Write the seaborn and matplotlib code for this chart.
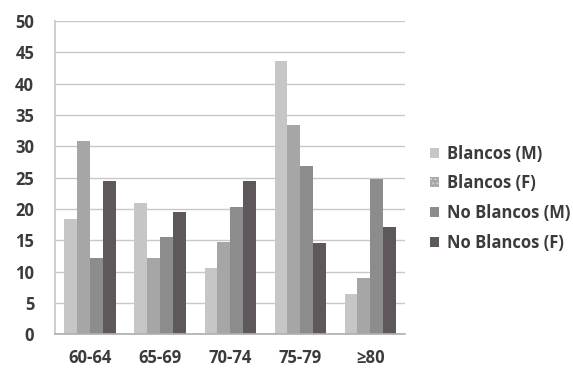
import matplotlib
matplotlib.use("Agg")
import matplotlib.pyplot as plt
from matplotlib.patches import Patch
import seaborn as sns
import pandas as pd

# Grupos de edad y porcentajes por raza y sexo
grupos = ["60-64", "65-69", "70-74", "75-79", "≥80"]
series = ["Blancos (M)", "Blancos (F)", "No Blancos (M)", "No Blancos (F)"]
blancos_m = [18.4, 20.9, 10.5, 43.7, 6.4]
blancos_f = [30.8, 12.1, 14.7, 33.4, 8.9]
no_blancos_m = [12.1, 15.6, 20.3, 26.9, 24.8]
no_blancos_f = [24.4, 19.5, 24.4, 14.6, 17.1]
y_ticks = [0, 5, 10, 15, 20, 25, 30, 35, 40, 45, 50]

colores = ["#c6c6c6", "#a6a6a6", "#8c8c8c", "#5e585c"]

valores = [blancos_m, blancos_f, no_blancos_m, no_blancos_f]
filas = []
for nombre, vals in zip(series, valores):
    for g, v in zip(grupos, vals):
        filas.append({"grupo": g, "serie": nombre, "valor": v})
df = pd.DataFrame(filas)

sns.set_theme(style="white")
plt.rcParams["font.family"] = ["Open Sans", "DejaVu Sans"]
plt.rcParams["font.weight"] = "bold"

fig = plt.figure(figsize=(5.73, 3.78), dpi=100)
ax = fig.add_axes([0.096, 0.116, 0.611, 0.828])

sns.barplot(data=df, x="grupo", y="valor", hue="serie", order=grupos,
            hue_order=series, palette=colores, width=0.73, saturation=1,
            linewidth=0, ax=ax, legend=False)

ax.set_ylim(0, 50)
ax.set_xlim(-0.5, len(grupos) - 0.5)
ax.set_yticks(y_ticks)
ax.yaxis.grid(True, color="#c8c8c8", linewidth=1)
ax.set_axisbelow(True)
ax.set_xlabel("")
ax.set_ylabel("")

for s in ["top", "right"]:
    ax.spines[s].set_visible(False)
ax.spines["left"].set_color("#c8c8c8")
ax.spines["bottom"].set_color("#b0b0b0")

texto = "#3c3a3b"
ax.tick_params(axis="y", length=5, color="#c8c8c8", pad=10,
               labelsize=12, labelcolor=texto)
ax.tick_params(axis="x", which="major", length=0, pad=11,
               labelsize=12, labelcolor=texto)
ax.set_xticks([i - 0.5 for i in range(len(grupos) + 1)], minor=True)
ax.tick_params(axis="x", which="minor", length=4, color="#b0b0b0")
for lbl in ax.get_xticklabels() + ax.get_yticklabels():
    lbl.set_fontweight("bold")

handles = [Patch(facecolor=c, edgecolor="none") for c in colores]
handles[1] = Patch(facecolor=colores[1], edgecolor="#cfcfcf", hatch="....",
                   linewidth=0)
fig.legend(handles, series, loc="upper left", bbox_to_anchor=(0.724, 0.657),
           frameon=False, handlelength=0.55, handleheight=0.55,
           handletextpad=0.45, labelspacing=0.7, labelcolor=texto,
           prop={"weight": "bold", "size": 12})

fig.savefig("out.png", dpi=100, facecolor="white")
